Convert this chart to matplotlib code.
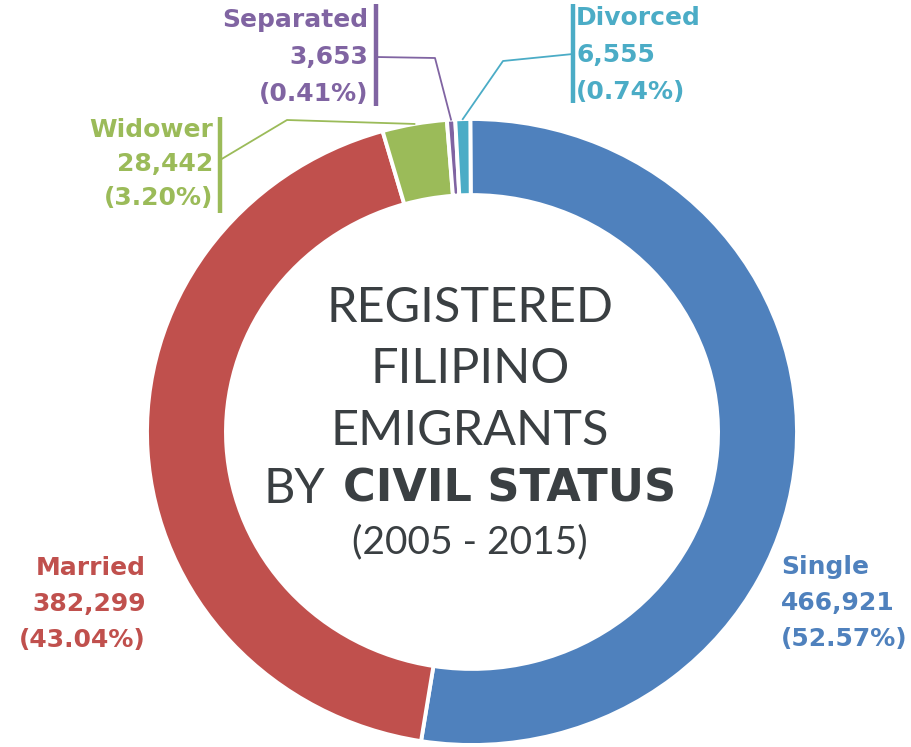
import matplotlib
matplotlib.use("Agg")
import matplotlib.pyplot as plt
import numpy as np

categories = ["Single", "Married", "Widower", "Separated", "Divorced"]
values = [466921, 382299, 28442, 3653, 6555]
pct_labels = ["52.57%", "43.04%", "3.20%", "0.41%", "0.74%"]
colors = ["#4F81BD", "#C0504D", "#9BBB59", "#8064A2", "#4BACC6"]

W, H = 911, 747
CX, CY = 472, 432      # donut centre in pixels
RX, RY = 325, 313      # pixels per data unit (slightly squashed vertically)

fig = plt.figure(figsize=(W / 100, H / 100), dpi=100)
ax = fig.add_axes([0, 0, 1, 1])

def P(px, py):
    return ((px - CX) / RX, (CY - py) / RY)

wedges, _ = ax.pie(values, colors=colors, startangle=90.3, counterclock=False,
                   radius=1.0,
                   wedgeprops=dict(width=0.243, edgecolor="white", linewidth=2.8))
ax.set_xlim(-CX / RX, (W - CX) / RX)
ax.set_ylim(-(H - CY) / RY, CY / RY)
ax.set_aspect("auto")
ax.axis("off")

LBL = dict(family="DejaVu Sans", fontweight="bold", fontsize=18)
DARK = "#3A3F42"

def label(i, px, py_top, ha, gap=36):
    lines = [categories[i], f"{values[i]:,}", f"({pct_labels[i]})"]
    for k, s in enumerate(lines):
        x, y = P(px, py_top + k * gap)
        ax.text(x, y, s, ha=ha, va="center", color=colors[i], **LBL)

def wedge_tip(i):
    w = wedges[i]
    a = np.deg2rad((w.theta1 + w.theta2) / 2)
    return (np.cos(a), np.sin(a))

label(1, 146, 568, "right")
label(0, 781, 567, "left")
label(2, 213, 130, "right", gap=34)
label(3, 368, 20, "right", gap=37)
label(4, 576, 18, "left", gap=37)

def bar(px, py0, py1, c):
    x0, y0 = P(px, py0)
    x1, y1 = P(px, py1)
    ax.plot([x0, x1], [y0, y1], color=c, lw=3.2, solid_capstyle="butt")

def leader(start_px, elbow_px, i):
    sx, sy = P(*start_px)
    ex, ey = P(*elbow_px)
    tx, ty = wedge_tip(i)
    ax.plot([sx, ex, tx], [sy, ey, ty], color=colors[i], lw=1.3)

bar(220, 117, 213, colors[2])
bar(376, 4, 106, colors[3])
bar(573, 4, 103, colors[4])
leader((220, 160), (287, 120), 2)
leader((376, 57), (435, 58), 3)
leader((573, 54), (503, 61), 4)

TF = dict(family="Lato", fontweight="normal", fontsize=35, color=DARK)
for s, py in [("REGISTERED", 308), ("FILIPINO", 369), ("EMIGRANTS", 431)]:
    x, y = P(470, py)
    ax.text(x, y, s, ha="center", va="center", **TF)
x, y = P(325, 489)
ax.text(x, y, "BY", ha="right", va="center", **TF)
x, y = P(343, 489)
ax.text(x, y, "CIVIL STATUS", ha="left", va="center", family="DejaVu Sans",
        fontweight="bold", fontsize=32, color=DARK)
x, y = P(470, 542)
ax.text(x, y, "(2005 - 2015)", ha="center", va="center", family="Lato",
        fontweight="normal", fontsize=28, color=DARK)

fig.savefig("out.png", dpi=100, facecolor="white")
